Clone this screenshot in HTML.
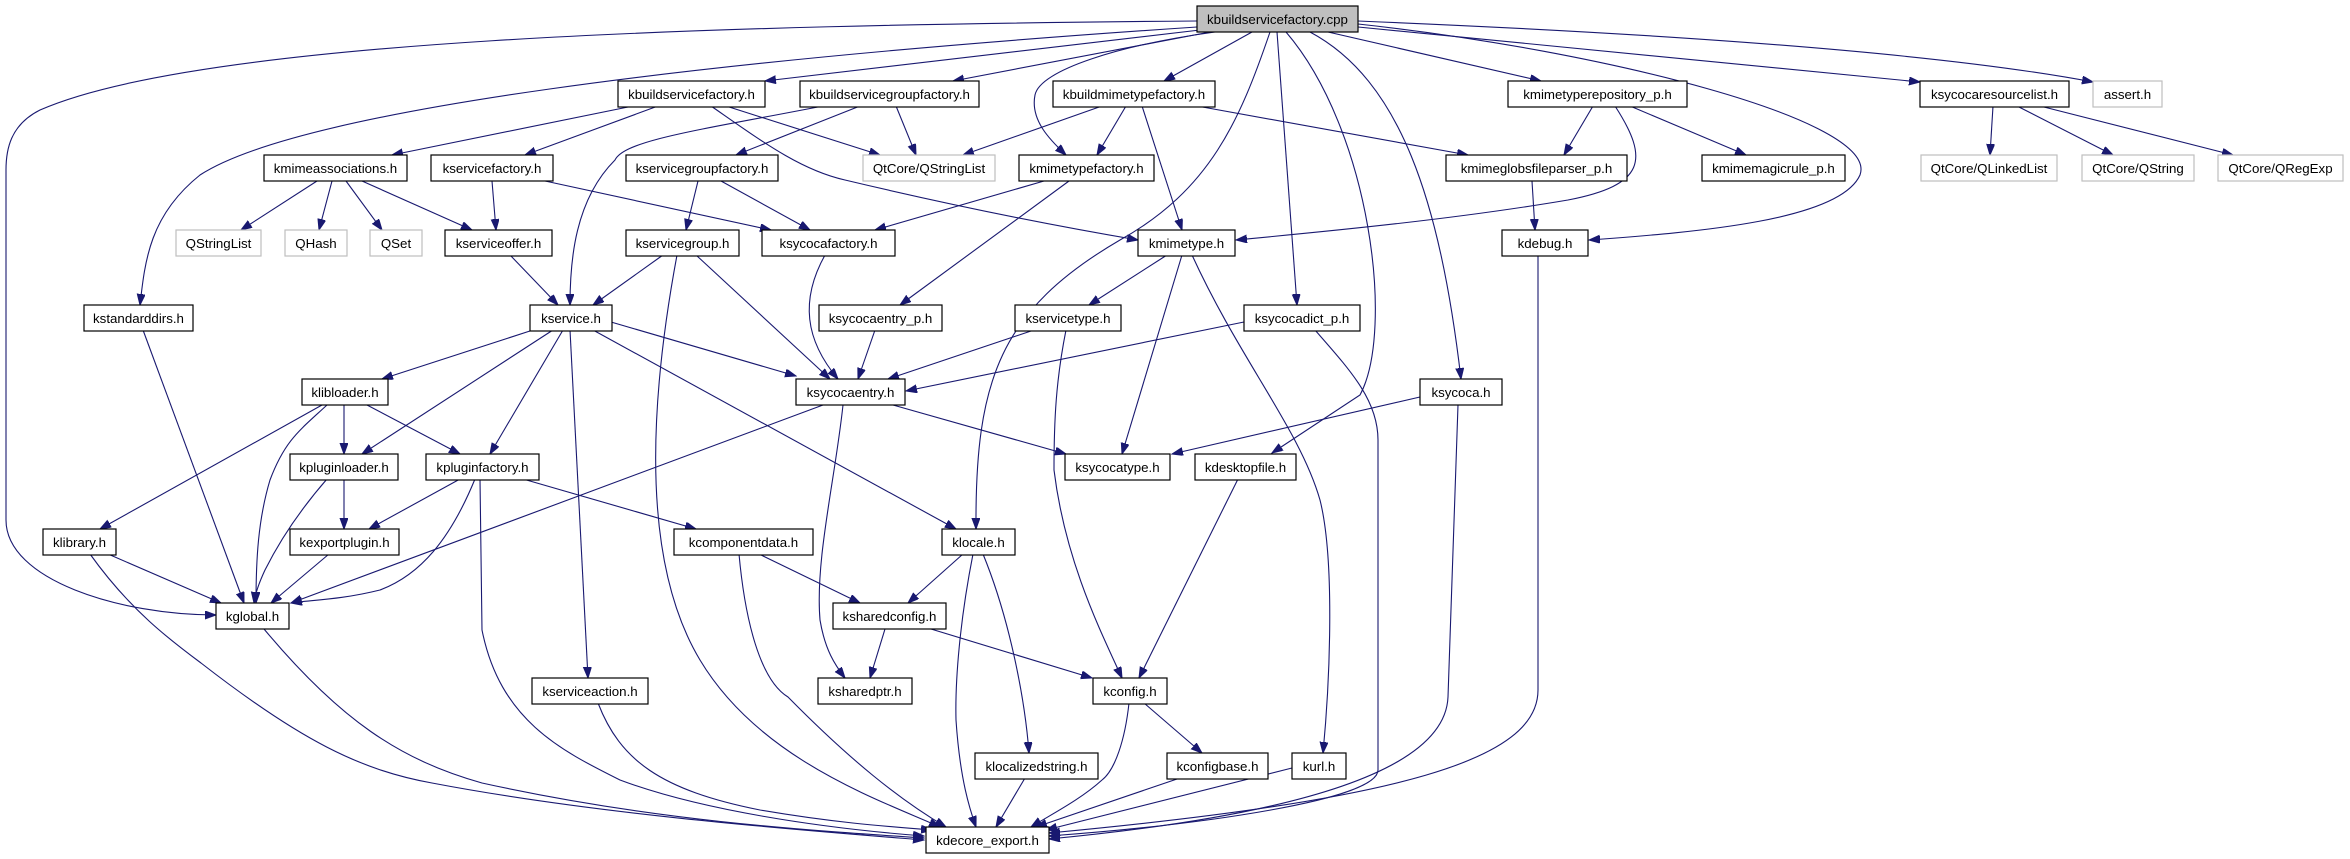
<!DOCTYPE html>
<html><head><meta charset="utf-8"><style>
html,body{margin:0;padding:0;background:#fff;}
svg{display:block;}
text{font-family:"Liberation Sans",Arial,sans-serif;font-size:13.3px;text-anchor:middle;fill:#000;}
.n{fill:#fff;stroke:#000;stroke-width:1.2;}
.g{fill:#fff;stroke:#bfbfbf;stroke-width:1.2;}
.r{fill:#bfbfbf;stroke:#000;stroke-width:1.2;}
path{fill:none;stroke:#191970;stroke-width:1.1;marker-end:url(#a);}
</style></head><body>
<svg width="2350" height="859" viewBox="0 0 2350 859" xmlns="http://www.w3.org/2000/svg">
<defs><marker id="a" markerUnits="userSpaceOnUse" markerWidth="12" markerHeight="9" refX="11" refY="4" orient="auto"><polygon points="0,0 11,4 0,8" fill="#191970" stroke="#191970"/></marker></defs>
<!-- edges -->
<path d="M1197,21 C700,25 200,40 40,110 C10,125 6,150 6,170 L6,520 C6,580 120,615 216,615"/>
<path d="M1197,27 C700,60 300,110 200,175 C150,215 145,260 140,305"/>
<path d="M1200,30 L765,81"/>
<path d="M1210,32 L953,81"/>
<path d="M1215,32 C1120,45 1040,70 1035,95 C1030,120 1050,140 1066,155"/>
<path d="M1252,32 L1164,81"/>
<path d="M1270,32 C1240,120 1210,190 1120,240 C1000,310 975,380 976,529"/>
<path d="M1277,32 L1297,305"/>
<path d="M1286,32 C1370,130 1395,330 1360,395 L1272,453"/>
<path d="M1310,32 C1400,80 1440,200 1461,379"/>
<path d="M1328,32 L1541,81"/>
<path d="M1358,24 C1600,50 1880,120 1860,175 C1840,220 1700,232 1589,240"/>
<path d="M1358,27 L1920,82"/>
<path d="M1358,21 C1700,35 1950,55 2093,82"/>
<path d="M1615,106 C1650,160 1645,185 1568,200 C1450,220 1320,232 1236,240"/>
<path d="M1593,106 L1564,155"/>
<path d="M1630,106 L1746,155"/>
<path d="M823,106 C700,130 625,140 615,160 C575,200 570,260 570,305"/>
<path d="M860,106 L736,155"/>
<path d="M896,106 L916,155"/>
<path d="M633,106 L392,155"/>
<path d="M658,106 L525,155"/>
<path d="M726,106 L880,155"/>
<path d="M711,106 C760,140 800,170 845,180 C950,205 1050,225 1138,240"/>
<path d="M492,181 L496,230"/>
<path d="M545,181 L771,230"/>
<path d="M317,181 L241,230"/>
<path d="M332,181 L319,230"/>
<path d="M346,181 L382,230"/>
<path d="M362,181 L472,230"/>
<path d="M698,181 L686,230"/>
<path d="M721,181 L810,230"/>
<path d="M510,255 L558,305"/>
<path d="M663,255 L593,305"/>
<path d="M677,255 C650,400 640,560 700,660 C760,760 880,800 940,827"/>
<path d="M696,255 L830,379"/>
<path d="M825,255 C800,300 805,340 838,379"/>
<path d="M1044,181 L875,230"/>
<path d="M1069,181 L900,305"/>
<path d="M1102,106 L963,155"/>
<path d="M1126,106 L1097,155"/>
<path d="M1142,106 L1182,230"/>
<path d="M1197,106 L1468,155"/>
<path d="M1532,181 L1535,230"/>
<path d="M1167,255 L1089,305"/>
<path d="M1182,255 L1122,454"/>
<path d="M1192,255 C1240,360 1300,430 1320,500 C1335,560 1330,680 1323,753"/>
<path d="M875,330 L858,379"/>
<path d="M1034,330 L888,379"/>
<path d="M1066,330 C1056,380 1054,420 1054,470 C1065,560 1100,630 1122,678"/>
<path d="M1244,322 L906,391"/>
<path d="M1315,330 C1350,370 1378,400 1378,440 L1378,770 C1378,800 1200,825 1049,836"/>
<path d="M1538,255 L1538,690 C1538,760 1400,800 1049,833"/>
<path d="M1420,397 L1172,454"/>
<path d="M1458,405 L1448,697 C1445,770 1300,815 1049,839"/>
<path d="M823,405 L291,603"/>
<path d="M843,405 C835,480 815,560 820,620 C825,650 835,665 845,678"/>
<path d="M893,405 L1066,454"/>
<path d="M533,330 L382,379"/>
<path d="M553,330 L362,454"/>
<path d="M563,330 L490,454"/>
<path d="M570,330 L588,678"/>
<path d="M593,330 L956,529"/>
<path d="M611,322 L796,376"/>
<path d="M322,405 L100,529"/>
<path d="M327,405 C300,430 285,440 270,480 C258,520 256,560 256,603"/>
<path d="M344,405 L344,454"/>
<path d="M367,405 L460,454"/>
<path d="M143,330 L244,603"/>
<path d="M344,479 L344,529"/>
<path d="M327,479 C300,510 280,540 265,570 C258,585 255,595 254,603"/>
<path d="M460,479 L369,529"/>
<path d="M475,479 C450,540 420,575 380,590 C340,600 310,600 291,603"/>
<path d="M480,479 L482,630 C500,720 560,750 620,780 C700,810 820,828 924,836"/>
<path d="M523,479 L696,529"/>
<path d="M108,554 L221,603"/>
<path d="M90,554 C130,610 170,640 201,663 C300,740 360,770 432,783 C600,815 800,830 924,840"/>
<path d="M329,554 L271,603"/>
<path d="M264,629 C340,720 400,760 482,783 C650,820 800,830 924,838"/>
<path d="M598,703 C620,760 660,790 760,810 C830,822 880,826 932,830"/>
<path d="M759,554 L860,603"/>
<path d="M739,554 C745,620 760,680 788,697 C850,760 900,800 946,827"/>
<path d="M963,554 L908,603"/>
<path d="M973,554 C960,620 955,680 956,720 C960,780 970,810 976,827"/>
<path d="M983,554 C1010,620 1025,700 1029,753"/>
<path d="M885,629 L870,678"/>
<path d="M931,629 L1092,678"/>
<path d="M1238,479 L1139,678"/>
<path d="M1144,703 L1202,753"/>
<path d="M1129,703 C1125,740 1115,770 1102,780 C1080,800 1050,815 1031,827"/>
<path d="M1025,778 L996,827"/>
<path d="M1180,778 L1036,827"/>
<path d="M1292,768 L1046,830"/>
<path d="M1993,106 L1990,155"/>
<path d="M2017,106 L2113,155"/>
<path d="M2040,106 L2233,155"/>
<!-- nodes -->
<rect class="r" x="1197" y="6" width="161" height="26"/><text x="1277.5" y="24">kbuildservicefactory.cpp</text>
<rect class="n" x="618" y="81" width="147" height="26"/><text x="691.5" y="99">kbuildservicefactory.h</text>
<rect class="n" x="800" y="81" width="179" height="26"/><text x="889.5" y="99">kbuildservicegroupfactory.h</text>
<rect class="n" x="1053" y="81" width="162" height="26"/><text x="1134" y="99">kbuildmimetypefactory.h</text>
<rect class="n" x="1508" y="81" width="179" height="26"/><text x="1597.5" y="99">kmimetyperepository_p.h</text>
<rect class="n" x="1920" y="81" width="149" height="26"/><text x="1994.5" y="99">ksycocaresourcelist.h</text>
<rect class="g" x="2093" y="81" width="69" height="26"/><text x="2127.5" y="99">assert.h</text>
<rect class="n" x="264" y="155" width="143" height="26"/><text x="335.5" y="173">kmimeassociations.h</text>
<rect class="n" x="431" y="155" width="122" height="26"/><text x="492" y="173">kservicefactory.h</text>
<rect class="n" x="626" y="155" width="152" height="26"/><text x="702" y="173">kservicegroupfactory.h</text>
<rect class="g" x="863" y="155" width="132" height="26"/><text x="929" y="173">QtCore/QStringList</text>
<rect class="n" x="1019" y="155" width="135" height="26"/><text x="1086.5" y="173">kmimetypefactory.h</text>
<rect class="n" x="1446" y="155" width="181" height="26"/><text x="1536.5" y="173">kmimeglobsfileparser_p.h</text>
<rect class="n" x="1702" y="155" width="143" height="26"/><text x="1773.5" y="173">kmimemagicrule_p.h</text>
<rect class="g" x="1921" y="155" width="136" height="26"/><text x="1989" y="173">QtCore/QLinkedList</text>
<rect class="g" x="2082" y="155" width="112" height="26"/><text x="2138" y="173">QtCore/QString</text>
<rect class="g" x="2218" y="155" width="125" height="26"/><text x="2280.5" y="173">QtCore/QRegExp</text>
<rect class="g" x="176" y="230" width="85" height="26"/><text x="218.5" y="248">QStringList</text>
<rect class="g" x="285" y="230" width="62" height="26"/><text x="316" y="248">QHash</text>
<rect class="g" x="370" y="230" width="52" height="26"/><text x="396" y="248">QSet</text>
<rect class="n" x="445" y="230" width="107" height="26"/><text x="498.5" y="248">kserviceoffer.h</text>
<rect class="n" x="626" y="230" width="113" height="26"/><text x="682.5" y="248">kservicegroup.h</text>
<rect class="n" x="762" y="230" width="133" height="26"/><text x="828.5" y="248">ksycocafactory.h</text>
<rect class="n" x="1138" y="230" width="97" height="26"/><text x="1186.5" y="248">kmimetype.h</text>
<rect class="n" x="1502" y="230" width="86" height="26"/><text x="1545" y="248">kdebug.h</text>
<rect class="n" x="84" y="305" width="109" height="26"/><text x="138.5" y="323">kstandarddirs.h</text>
<rect class="n" x="530" y="305" width="82" height="26"/><text x="571" y="323">kservice.h</text>
<rect class="n" x="819" y="305" width="123" height="26"/><text x="880.5" y="323">ksycocaentry_p.h</text>
<rect class="n" x="1015" y="305" width="106" height="26"/><text x="1068" y="323">kservicetype.h</text>
<rect class="n" x="1244" y="305" width="116" height="26"/><text x="1302" y="323">ksycocadict_p.h</text>
<rect class="n" x="302" y="379" width="86" height="26"/><text x="345" y="397">klibloader.h</text>
<rect class="n" x="796" y="379" width="109" height="26"/><text x="850.5" y="397">ksycocaentry.h</text>
<rect class="n" x="1420" y="379" width="82" height="26"/><text x="1461" y="397">ksycoca.h</text>
<rect class="n" x="290" y="454" width="108" height="26"/><text x="344" y="472">kpluginloader.h</text>
<rect class="n" x="426" y="454" width="113" height="26"/><text x="482.5" y="472">kpluginfactory.h</text>
<rect class="n" x="1065" y="454" width="105" height="26"/><text x="1117.5" y="472">ksycocatype.h</text>
<rect class="n" x="1195" y="454" width="101" height="26"/><text x="1245.5" y="472">kdesktopfile.h</text>
<rect class="n" x="43" y="529" width="73" height="26"/><text x="79.5" y="547">klibrary.h</text>
<rect class="n" x="290" y="529" width="109" height="26"/><text x="344.5" y="547">kexportplugin.h</text>
<rect class="n" x="674" y="529" width="139" height="26"/><text x="743.5" y="547">kcomponentdata.h</text>
<rect class="n" x="942" y="529" width="73" height="26"/><text x="978.5" y="547">klocale.h</text>
<rect class="n" x="216" y="603" width="73" height="26"/><text x="252.5" y="621">kglobal.h</text>
<rect class="n" x="833" y="603" width="113" height="26"/><text x="889.5" y="621">ksharedconfig.h</text>
<rect class="n" x="532" y="678" width="116" height="26"/><text x="590" y="696">kserviceaction.h</text>
<rect class="n" x="818" y="678" width="94" height="26"/><text x="865" y="696">ksharedptr.h</text>
<rect class="n" x="1093" y="678" width="74" height="26"/><text x="1130" y="696">kconfig.h</text>
<rect class="n" x="975" y="753" width="123" height="26"/><text x="1036.5" y="771">klocalizedstring.h</text>
<rect class="n" x="1167" y="753" width="101" height="26"/><text x="1217.5" y="771">kconfigbase.h</text>
<rect class="n" x="1292" y="753" width="54" height="26"/><text x="1319" y="771">kurl.h</text>
<rect class="n" x="926" y="827" width="123" height="26"/><text x="987.5" y="845">kdecore_export.h</text>
</svg>
</body></html>
